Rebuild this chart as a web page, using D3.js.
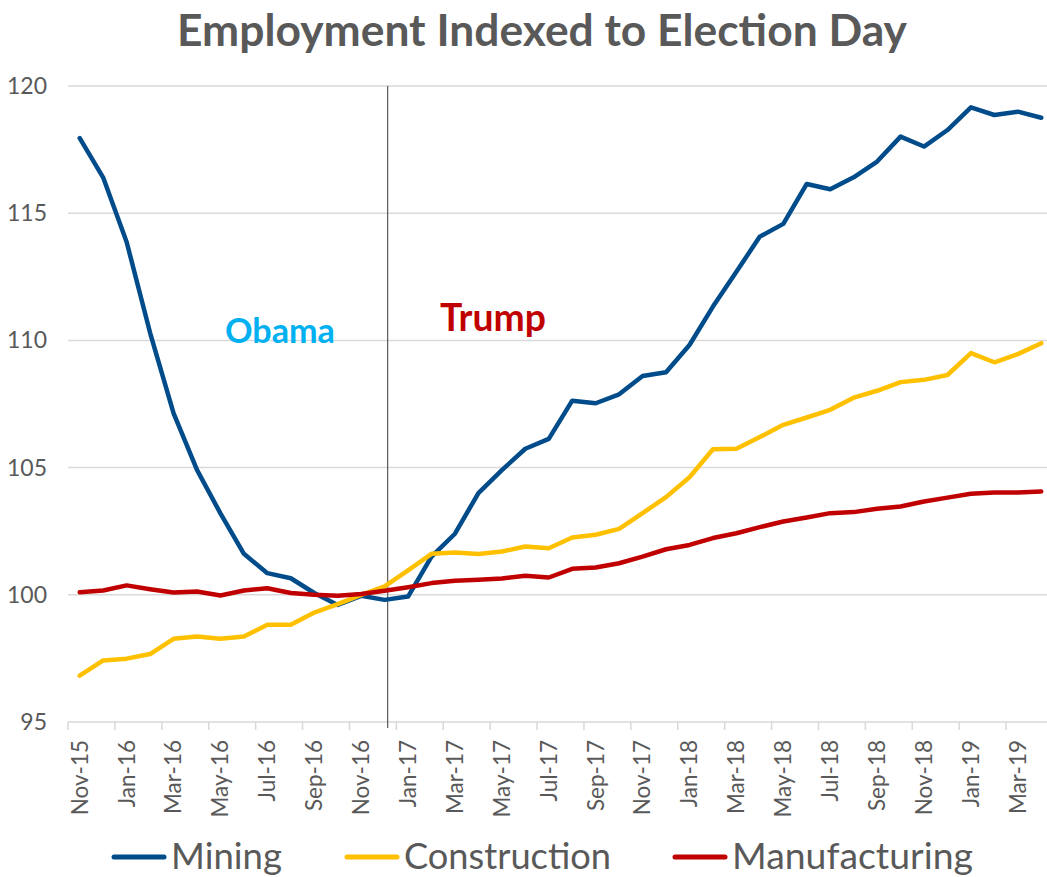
<!DOCTYPE html>
<html><head><meta charset="utf-8">
<script src="https://cdn.jsdelivr.net/npm/d3@7"></script>
<style>body{margin:0;background:#fff}svg{display:block}</style></head>
<body><svg id="c" width="1047" height="877"></svg>
<script>
const months = ["Nov-15","Dec-15","Jan-16","Feb-16","Mar-16","Apr-16","May-16","Jun-16","Jul-16","Aug-16","Sep-16","Oct-16","Nov-16","Dec-16",
"Jan-17","Feb-17","Mar-17","Apr-17","May-17","Jun-17","Jul-17","Aug-17","Sep-17","Oct-17","Nov-17","Dec-17",
"Jan-18","Feb-18","Mar-18","Apr-18","May-18","Jun-18","Jul-18","Aug-18","Sep-18","Oct-18","Nov-18","Dec-18",
"Jan-19","Feb-19","Mar-19","Apr-19"];
const mining = [117.95,116.4,113.87,110.3,107.14,104.91,103.2,101.61,100.85,100.65,100.07,99.6,99.96,99.8,99.93,101.5,102.4,104.0,104.9,105.74,106.13,107.63,107.53,107.88,108.6,108.75,109.82,111.33,112.7,114.08,114.58,116.15,115.94,116.41,117.03,118.01,117.62,118.27,119.16,118.86,118.99,118.75];
const construction = [96.82,97.42,97.49,97.67,98.27,98.36,98.27,98.36,98.82,98.82,99.3,99.63,100.0,100.33,100.96,101.61,101.66,101.6,101.7,101.9,101.83,102.25,102.36,102.59,103.21,103.84,104.62,105.72,105.74,106.2,106.68,106.97,107.27,107.75,108.02,108.36,108.45,108.64,109.5,109.14,109.46,109.89];
const manufacturing = [100.1,100.17,100.37,100.22,100.09,100.13,99.97,100.17,100.26,100.07,100.0,99.96,100.03,100.16,100.3,100.46,100.55,100.59,100.64,100.75,100.68,101.02,101.07,101.24,101.5,101.79,101.96,102.23,102.42,102.66,102.88,103.04,103.21,103.25,103.38,103.47,103.67,103.82,103.97,104.02,104.02,104.06];
const seriesNames = ["Mining","Construction","Manufacturing"];
const seriesColors = ["#004C8A","#FFC000","#C00000"];
const yTicks = [95,100,105,110,115,120];
const electionIndex = 13.13;
const title = "Employment Indexed to Election Day";

const svg = d3.select("#c");
const FONT = "Lato, 'Open Sans', sans-serif";
const x = d3.scaleLinear().domain([-0.5, 41.5]).range([68, 1053]);
const y = d3.scaleLinear().domain([95, 120]).range([722, 86]);

function fit(sel, target, start) {
  sel.style("font-size", start + "px");
  const len = sel.node().getComputedTextLength();
  sel.style("font-size", (start * target / len) + "px");
  return sel;
}

// Title
fit(svg.append("text").attr("x", 542).attr("y", 46).attr("text-anchor", "middle")
  .attr("font-family", FONT).attr("font-weight", "bold").attr("fill", "#595959").text(title), 730, 40);

// Gridlines
svg.append("g").selectAll("line").data(yTicks).join("line")
  .attr("x1", x(-0.5)).attr("x2", x(41.5))
  .attr("y1", d => y(d)).attr("y2", d => y(d))
  .attr("stroke", "#d9d9d9").attr("stroke-width", 1.5);

// Y labels
svg.append("g").selectAll("text").data(yTicks).join("text")
  .attr("x", 47).attr("y", d => y(d)).attr("dy", "0.35em")
  .attr("text-anchor", "end").attr("font-family", FONT).attr("font-size", 23)
  .attr("fill", "#595959").text(d => d);

// X ticks (between categories, every 2)
const tickIdx = d3.range(0, 43, 2);
svg.append("g").selectAll("line").data(tickIdx).join("line")
  .attr("x1", d => x(d - 0.5)).attr("x2", d => x(d - 0.5))
  .attr("y1", y(95)).attr("y2", y(95) + 8)
  .attr("stroke", "#d9d9d9").attr("stroke-width", 1.5);

// X labels
const labIdx = d3.range(0, months.length, 2);
svg.append("g").selectAll("text").data(labIdx).join("text")
  .attr("transform", d => `translate(${x(d)},740) rotate(-90)`)
  .attr("dy", "0.35em").attr("text-anchor", "end")
  .attr("font-family", FONT).attr("font-size", 22.5).attr("fill", "#595959")
  .text(d => months[d]);

// Election line
svg.append("line").attr("x1", x(electionIndex)).attr("x2", x(electionIndex))
  .attr("y1", y(120)).attr("y2", y(95) + 6)
  .attr("stroke", "#595959").attr("stroke-width", 1.2);

// Series
const line = d3.line().x((d, i) => x(i)).y(d => y(d));
[mining, construction, manufacturing].forEach((s, k) => {
  svg.append("path").datum(s).attr("d", line).attr("fill", "none")
    .attr("stroke", seriesColors[k]).attr("stroke-width", 4.5)
    .attr("stroke-linejoin", "round").attr("stroke-linecap", "round");
});

// Annotations
fit(svg.append("text").attr("x", 225).attr("y", 343).attr("font-family", FONT)
  .attr("font-weight", "bold").attr("fill", "#00B0F0").text("Obama"), 110, 30);
fit(svg.append("text").attr("x", 440).attr("y", 331).attr("font-family", FONT)
  .attr("font-weight", "bold").attr("fill", "#C00000").text("Trump"), 106, 30);

// Legend
const legX = [112, 345, 673];
const legW = [111, 207, 241];
seriesNames.forEach((n, k) => {
  svg.append("line").attr("x1", legX[k] + 2).attr("x2", legX[k] + 52)
    .attr("y1", 857).attr("y2", 857).attr("stroke", seriesColors[k])
    .attr("stroke-width", 5).attr("stroke-linecap", "round");
  fit(svg.append("text").attr("x", legX[k] + 59).attr("y", 869).attr("font-family", FONT)
    .attr("fill", "#595959").text(n), legW[k], 34);
});
</script>
</body></html>
